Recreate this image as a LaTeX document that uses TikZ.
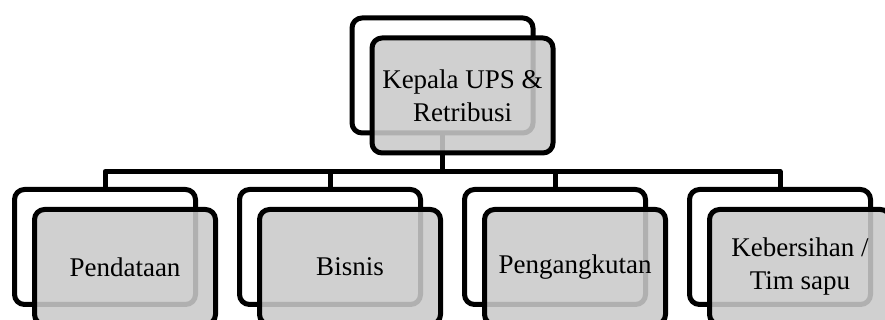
\documentclass[tikz,border=0pt]{standalone}
\usepackage{fontspec}
\setmainfont{Liberation Serif}

\begin{document}
\begin{tikzpicture}[x=1pt,y=1pt,line width=5pt,line join=round,
      node distance=225pt,
      back box/.style={rectangle,draw,rounded corners=10pt,minimum width=181pt,
        minimum height=115pt,inner sep=0pt,outer sep=0pt},
      front box/.style={back box,fill=black!21,fill opacity=0.88,text opacity=1,
        xshift=20pt,yshift=-20pt,align=center,font=\fontsize{27}{33}\selectfont}]
    \useasboundingbox (0,0) rectangle (885,320);
    \node[back box] (kb) at (442.5,244.5) {};
    \node[back box] (b1) at (105,73) {};
    \node[back box] (b2) [right of=b1] {};
    \node[back box] (b3) [right of=b2] {};
    \node[back box] (b4) [right of=b3] {};
    \coordinate (bus) at ([yshift=-38.5pt]kb.south);
    \path[draw]
    (kb.south) -- (bus)
    (b1.north) |- (bus)
    (b2.north) |- (bus)
    (b3.north) |- (bus)
    (b4.north) |- (bus)
    ;
    \node[front box] (k) at (kb) {Kepala UPS \&\\Retribusi};
    \node[front box] (f1) at (b1) {Pendataan};
    \node[front box] (f2) at (b2) {Bisnis};
    \node[front box] (f3) at (b3) {Pengangkutan};
    \node[front box] (f4) at (b4) {Kebersihan /\\Tim sapu};
  \end{tikzpicture}
\end{document}
